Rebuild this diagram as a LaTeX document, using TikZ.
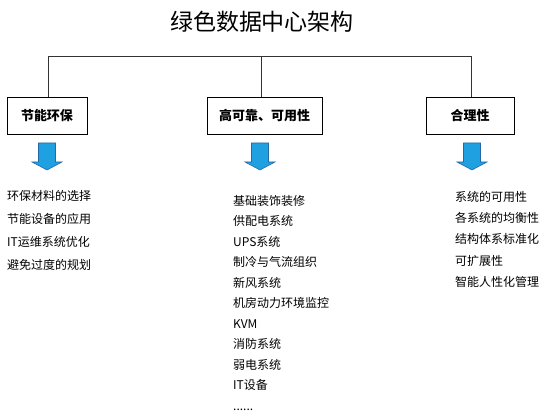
\documentclass[tikz,border=0pt]{standalone}
\usepackage{fontspec}
\setmainfont{Noto Sans CJK SC}
\usepackage{tikz}
\usetikzlibrary{calc,positioning}
\definecolor{arrowblue}{RGB}{30,160,225}
\definecolor{arrowedge}{RGB}{35,105,165}

\begin{document}
\begin{tikzpicture}[x=1pt, y=-1pt,
    topic/.style={draw, line width=0.8pt, minimum height=37pt, inner sep=0pt, font=\fontsize{13}{15}\selectfont\bfseries},
    items/.style={anchor=north west, inner sep=0pt, align=left},
    branch/.style={line width=0.8pt, black!80},
    downarrow/.style={fill=arrowblue, draw=arrowedge, line width=0.6pt}]
    \useasboundingbox (0,0) rectangle (550,420);

    \node (title) at (262,22) {\fontsize{23}{26}\selectfont 绿色数据中心架构};

    \node [topic, minimum width=80pt] (energy) at (47,115.5) {节能环保};
    \node [topic, minimum width=115pt] (reliable) at (264.5,115.5) {高可靠、可用性};
    \node [topic, minimum width=88pt] (rational) at (470,115.5) {合理性};

    % tree lines
    \coordinate (busL) at (48,56);
    \coordinate (busM) at (261,56);
    \coordinate (busR) at (471,56);
    \draw[branch] (busL) -- (busR);
    \draw[branch] (busL) -- (busL |- energy.north);
    \draw[branch] (busM) -- (busM |- reliable.north);
    \draw[branch] (busR) -- (busR |- rational.north);

    % blue arrows
    \foreach \x in {47,260,472}
        \draw[downarrow] (\x-8.5,143) -- (\x+8.5,143) -- (\x+8.5,162) -- (\x+15,162)
            -- (\x,170) -- (\x-15,162) -- (\x-8.5,162) -- cycle;

    \node[items, font=\fontsize{12}{23}\selectfont] (list1) at (7,190)
        {环保材料的选择\\节能设备的应用\\IT运维系统优化\\避免过度的规划};
    \node[items, font=\fontsize{12}{20.5}\selectfont] (list2) at (233,195)
        {基础装饰装修\\供配电系统\\UPS系统\\制冷与气流组织\\新风系统\\机房动力环境监控\\KVM\\消防系统\\弱电系统\\IT设备\\......};
    \node[items, font=\fontsize{12}{21.3}\selectfont] (list3) at (455,191)
        {系统的可用性\\各系统的均衡性\\结构体系标准化\\可扩展性\\智能人性化管理};

\end{tikzpicture}
\end{document}
